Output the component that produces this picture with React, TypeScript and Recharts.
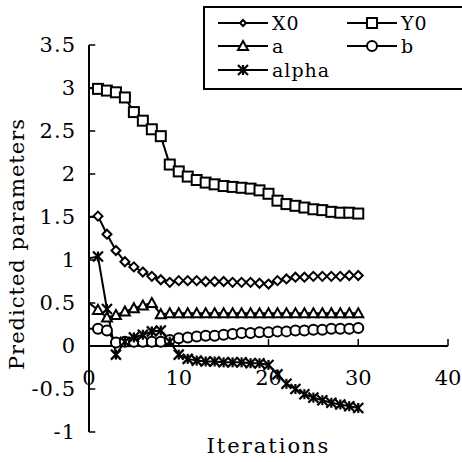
import { LineChart, Line, XAxis, YAxis, ReferenceLine, Legend } from 'recharts';

// iteration index (0 = starting value, no marker drawn there)
const iterations = [
  0, 1, 2, 3, 4, 5, 6, 7, 8, 9, 10, 11, 12, 13, 14, 15,
  16, 17, 18, 19, 20, 21, 22, 23, 24, 25, 26, 27, 28, 29, 30,
];

const x0Values = [
  1.5, 1.51, 1.3, 1.11, 0.98, 0.92, 0.86, 0.81, 0.77, 0.74, 0.76, 0.76, 0.76, 0.75, 0.75, 0.75,
  0.74, 0.74, 0.74, 0.73, 0.72, 0.76, 0.78, 0.8, 0.8, 0.81, 0.81, 0.81, 0.81, 0.82, 0.82,
];
const y0Values = [
  3.0, 2.99, 2.97, 2.95, 2.89, 2.72, 2.62, 2.52, 2.44, 2.11, 2.03, 1.97, 1.93, 1.9, 1.88, 1.86,
  1.85, 1.84, 1.83, 1.81, 1.77, 1.69, 1.65, 1.63, 1.61, 1.59, 1.58, 1.56, 1.55, 1.55, 1.54,
];
const aValues = [
  0.5, 0.42, 0.33, 0.36, 0.4, 0.44, 0.47, 0.5, 0.37, 0.38, 0.38, 0.38, 0.38, 0.38, 0.38, 0.38,
  0.38, 0.38, 0.38, 0.38, 0.38, 0.38, 0.38, 0.38, 0.38, 0.38, 0.38, 0.38, 0.38, 0.38, 0.38,
];
const bValues = [
  0.2, 0.2, 0.18, 0.04, 0.05, 0.05, 0.05, 0.05, 0.05, 0.07, 0.09, 0.1, 0.11, 0.12, 0.12, 0.13,
  0.14, 0.15, 0.15, 0.16, 0.16, 0.17, 0.17, 0.18, 0.18, 0.19, 0.19, 0.2, 0.2, 0.2, 0.21,
];
const alphaValues = [
  1.02, 1.04, 0.43, -0.1, 0.05, 0.1, 0.13, 0.17, 0.18, 0.05, -0.1, -0.15, -0.17, -0.18, -0.18, -0.19,
  -0.19, -0.19, -0.2, -0.2, -0.22, -0.33, -0.44, -0.5, -0.56, -0.6, -0.63, -0.66, -0.68, -0.7, -0.72,
];

const xTicks = [0, 10, 20, 30, 40];
const yTicks = [-1, -0.5, 0, 0.5, 1, 1.5, 2, 2.5, 3, 3.5];

const data = iterations.map((it, i) => ({
  it,
  X0: x0Values[i],
  Y0: y0Values[i],
  a: aValues[i],
  b: bValues[i],
  alpha: alphaValues[i],
}));

type Shape = 'diamond' | 'square' | 'triangle' | 'circle' | 'star';

const seriesList: { key: string; shape: Shape }[] = [
  { key: 'X0', shape: 'diamond' },
  { key: 'Y0', shape: 'square' },
  { key: 'a', shape: 'triangle' },
  { key: 'b', shape: 'circle' },
  { key: 'alpha', shape: 'star' },
];

const FONT = "'DejaVu Serif', serif";

function Marker({ shape, cx, cy, size = 10 }: { shape: Shape; cx: number; cy: number; size?: number }) {
  const h = size / 2;
  const common = { fill: '#fff', stroke: '#000', strokeWidth: 2 };
  if (shape === 'diamond') {
    return <polygon points={`${cx},${cy - h + 0.5} ${cx + h - 0.5},${cy} ${cx},${cy + h - 0.5} ${cx - h + 0.5},${cy}`} {...common} />;
  }
  if (shape === 'square') {
    return <rect x={cx - h} y={cy - h} width={size} height={size} {...common} />;
  }
  if (shape === 'triangle') {
    return <polygon points={`${cx},${cy - h} ${cx + h},${cy + h - 1} ${cx - h},${cy + h - 1}`} {...common} />;
  }
  if (shape === 'circle') {
    return <circle cx={cx} cy={cy} r={h} {...common} />;
  }
  return (
    <g stroke="#000" strokeWidth={2.2}>
      <line x1={cx - h} y1={cy - h} x2={cx + h} y2={cy + h} />
      <line x1={cx - h} y1={cy + h} x2={cx + h} y2={cy - h} />
      <line x1={cx} y1={cy - h} x2={cx} y2={cy + h} />
    </g>
  );
}

const makeDot = (shape: Shape) => (props: any) => {
  const { cx, cy, index } = props;
  if (index === 0 || cx == null || cy == null) return <g key={`${shape}-${index}`} />;
  return (
    <g key={`${shape}-${index}`}>
      <Marker shape={shape} cx={cx} cy={cy} />
    </g>
  );
};

const XTick = ({ x, y, payload }: any) => (
  <text x={x} y={y - 54} textAnchor="middle" dominantBaseline="central" fontSize={21} style={{ fontFamily: FONT }} fill="#000">
    {payload.value}
  </text>
);

const YTick = ({ x, y, payload }: any) => (
  <text x={x} y={y} textAnchor="end" dominantBaseline="central" fontSize={21} style={{ fontFamily: FONT }} letterSpacing={1} fill="#000">
    {payload.value}
  </text>
);

function LegendBox() {
  const cols = [15, 144];
  const rows = [17, 40, 64];
  return (
    <svg width={270} height={84} style={{ display: 'block' }}>
      <rect x={1} y={1} width={280} height={82} fill="#fff" stroke="#000" strokeWidth={2} />
      {seriesList.map((s, i) => {
        const lx = cols[i % 2];
        const ly = rows[Math.floor(i / 2)];
        return (
          <g key={s.key}>
            <line x1={lx} y1={ly} x2={lx + 50} y2={ly} stroke="#000" strokeWidth={2.2} />
            <Marker shape={s.shape} cx={lx + 25} cy={ly} size={s.shape === 'diamond' ? 7 : 10} />
            <text x={lx + 54} y={ly} dominantBaseline="central" fontSize={19} style={{ fontFamily: FONT }} letterSpacing={1} fill="#000">
              {s.key}
            </text>
          </g>
        );
      })}
    </svg>
  );
}

export default function App() {
  return (
    <div style={{ position: 'absolute', left: 0, top: 0, width: 462, height: 462, overflow: 'hidden', background: '#fff', fontFamily: FONT }}>
      <LineChart width={462} height={462} data={data} margin={{ top: 45, right: 14, bottom: 0, left: 0 }}>
        <XAxis
          dataKey="it"
          type="number"
          domain={[0, 40]}
          ticks={xTicks}
          axisLine={false}
          tickLine={false}
          tickSize={0}
          tickMargin={0}
          height={30}
          tick={<XTick />}
          label={{
            content: ({ viewBox }: any) => (
              <text
                x={viewBox.x + viewBox.width / 2}
                y={viewBox.y + 14}
                textAnchor="middle"
                dominantBaseline="central"
                fontSize={21}
                style={{ fontFamily: FONT }}
                letterSpacing={2}
                fill="#000"
              >
                Iterations
              </text>
            ),
          }}
        />
        <YAxis
          type="number"
          domain={[-1, 3.5]}
          ticks={yTicks}
          width={89}
          axisLine={{ stroke: '#000', strokeWidth: 2 }}
          tickLine={false}
          tickSize={0}
          tickMargin={13}
          tick={<YTick />}
          label={{
            content: () => (
              <text
                x={17}
                y={244}
                transform="rotate(-90 17 244)"
                textAnchor="middle"
                dominantBaseline="central"
                fontSize={21}
                style={{ fontFamily: FONT }}
                letterSpacing={1}
                fill="#000"
              >
                Predicted parameters
              </text>
            ),
          }}
        />
        <ReferenceLine y={0} stroke="#000" strokeWidth={2} />
        {xTicks.slice(1).map((t) => (
          <ReferenceLine key={`xt-${t}`} segment={[{ x: t, y: 0 }, { x: t, y: 0.08 }]} stroke="#000" strokeWidth={1.5} />
        ))}
        {yTicks.map((v) => (
          <ReferenceLine key={`yt-${v}`} segment={[{ x: 0, y: v }, { x: 0.7, y: v }]} stroke="#000" strokeWidth={1.5} />
        ))}
        <Legend
          layout="vertical"
          align="center"
          verticalAlign="middle"
          wrapperStyle={{ position: 'absolute', left: 203, top: 6, width: 270, height: 84 }}
          content={() => <LegendBox />}
        />
        {seriesList.map((s) => (
          <Line
            key={s.key}
            dataKey={s.key}
            stroke="#000"
            strokeWidth={2}
            dot={makeDot(s.shape)}
            activeDot={false}
            isAnimationActive={false}
          />
        ))}
      </LineChart>
    </div>
  );
}
